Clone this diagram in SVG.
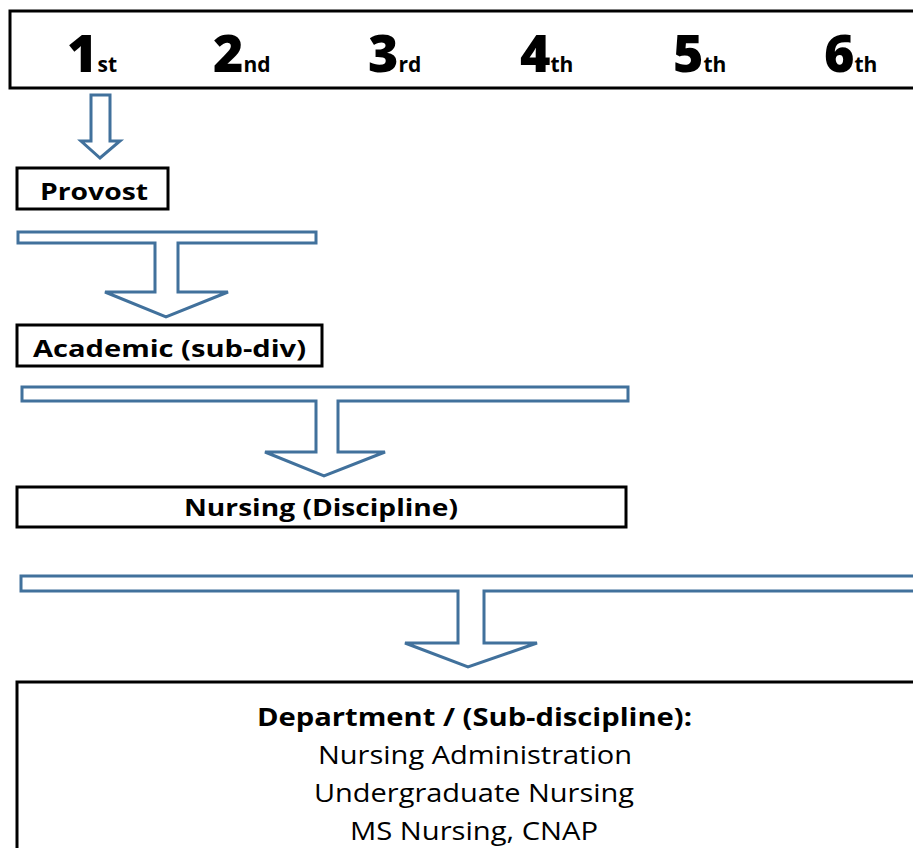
<svg xmlns="http://www.w3.org/2000/svg" width="913" height="848" viewBox="0 0 913 848">
<style>
.box{fill:#fff;stroke:#000;stroke-width:3}
.arr{fill:#fff;stroke:#41719C;stroke-width:3;stroke-linejoin:miter}
.big{font-family:"Open Sans",sans-serif;font-weight:800;font-size:52px;fill:#000}
.sup{font-family:"Open Sans",sans-serif;font-weight:bold;font-size:21px;fill:#000}
.lbl{font-family:"Open Sans",sans-serif;font-weight:bold;font-size:24px;fill:#000}
.txt{font-family:"Open Sans",sans-serif;font-size:25px;fill:#000}
</style>
<rect width="913" height="848" fill="#fff"/>
<g id="ranks">
<rect class="box" x="10" y="11" width="920" height="77"/>
<text class="big" x="67" y="72">1<tspan class="sup">st</tspan></text>
<text class="big" x="213" y="72">2<tspan class="sup">nd</tspan></text>
<text class="big" x="368" y="72">3<tspan class="sup">rd</tspan></text>
<text class="big" x="520" y="72">4<tspan class="sup">th</tspan></text>
<text class="big" x="673" y="72">5<tspan class="sup">th</tspan></text>
<text class="big" x="824" y="72">6<tspan class="sup">th</tspan></text>
</g>
<g id="connectors">
<path class="arr" d="M91,95 H110 V141 H120 L100,158 L81,141 H91 Z"/>
<path class="arr" d="M18,232 H316 V243 H178 V292 H228 L166,317 L105,292 H155 V243 H18 Z"/>
<path class="arr" d="M22,387 H628 V401 H338 V452 H385 L324,476 L265,452 H316 V401 H22 Z"/>
<path class="arr" d="M21,576 H920 V591 H484 V643 H537 L468,667 L405,643 H458 V591 H21 Z"/>
</g>
<g id="provost">
<rect class="box" x="17" y="168" width="151" height="41"/>
<text class="lbl" x="40" y="200" textLength="108" lengthAdjust="spacingAndGlyphs">Provost</text>
</g>
<g id="academic">
<rect class="box" x="17" y="325" width="305" height="41"/>
<text class="lbl" x="33" y="357" textLength="273" lengthAdjust="spacingAndGlyphs">Academic (sub-div)</text>
</g>
<g id="nursing">
<rect class="box" x="17" y="487" width="609" height="40"/>
<text class="lbl" x="184" y="516" textLength="274" lengthAdjust="spacingAndGlyphs">Nursing (Discipline)</text>
</g>
<g id="department">
<rect class="box" x="17" y="682" width="920" height="200"/>
<text class="txt" font-weight="bold" x="257" y="726" textLength="435" lengthAdjust="spacingAndGlyphs">Department / (Sub-discipline):</text>
<text class="txt" x="318" y="764" textLength="314" lengthAdjust="spacingAndGlyphs">Nursing Administration</text>
<text class="txt" x="314" y="802" textLength="320" lengthAdjust="spacingAndGlyphs">Undergraduate Nursing</text>
<text class="txt" x="350" y="840" textLength="248" lengthAdjust="spacingAndGlyphs">MS Nursing, CNAP</text>
</g>
</svg>
